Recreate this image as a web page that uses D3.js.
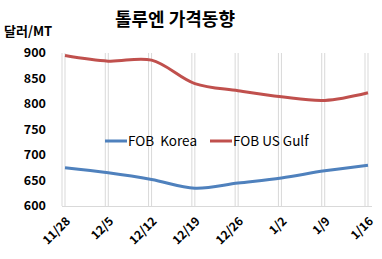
<!DOCTYPE html>
<html>
<head>
<meta charset="utf-8">
<script src="https://cdn.jsdelivr.net/npm/d3@7"></script>
<style>
  body { margin: 0; background: #fff; }
  svg { display: block; font-family: "Noto Sans CJK KR", "Open Sans", sans-serif; }
</style>
</head>
<body>
<div id="chart"></div>
<script>
// categories and series
var dates = ['11/28', '12/5', '12/12', '12/19', '12/26', '1/2', '1/9', '1/16'];
var korea = [675, 665, 652, 635, 645, 655, 669, 680];
var usGulf = [895, 884, 886, 840, 826, 814, 807, 822];
var yTicks = [600, 650, 700, 750, 800, 850, 900];

var width = 382, height = 259;
var svg = d3.select('#chart').append('svg')
    .attr('width', width)
    .attr('height', height);

var x = d3.scalePoint().domain(dates).range([65, 368]);
var y = d3.scaleLinear().domain([600, 900]).range([206, 53]);

// vertical gridlines (doubled, like the original)
var grid = svg.append('g');
grid.selectAll('line.g1')
    .data(dates)
    .enter()
    .append('line')
    .attr('x1', function (d) { return x(d) - 3; })
    .attr('x2', function (d) { return x(d) - 3; })
    .attr('y1', y(900))
    .attr('y2', y(600))
    .style('stroke', '#d9d9d9')
    .style('stroke-width', 1);
grid.selectAll('line.g2')
    .data(dates)
    .enter()
    .append('line')
    .attr('x1', function (d) { return x(d); })
    .attr('x2', function (d) { return x(d); })
    .attr('y1', y(900))
    .attr('y2', y(600))
    .style('stroke', '#d9d9d9')
    .style('stroke-width', 1);

// x axis line
svg.append('line')
    .attr('x1', 62)
    .attr('x2', 372)
    .attr('y1', y(600) + 0.5)
    .attr('y2', y(600) + 0.5)
    .style('stroke', '#d9d9d9')
    .style('stroke-width', 1);

// y tick labels
svg.selectAll('text.ytick')
    .data(yTicks)
    .enter()
    .append('text')
    .attr('x', 46)
    .attr('y', function (d) { return y(d); })
    .attr('dy', '0.35em')
    .attr('text-anchor', 'end')
    .style('font-size', '12.5px')
    .style('font-weight', 'bold')
    .style('fill', '#000')
    .text(function (d) { return d; });

// x tick labels, rotated
svg.selectAll('text.xtick')
    .data(dates)
    .enter()
    .append('text')
    .attr('transform', function (d) { return 'translate(' + (x(d) + 3) + ',' + 219 + ') rotate(-45)'; })
    .attr('text-anchor', 'end')
    .attr('dy', '0.35em')
    .style('font-size', '12px')
    .style('font-weight', 'bold')
    .style('fill', '#000')
    .text(function (d) { return d; });

// lines
var line = d3.line()
    .x(function (d, i) { return x(dates[i]); })
    .y(function (d) { return y(d); })
    .curve(d3.curveCatmullRom.alpha(0.5));

svg.append('path')
    .datum(usGulf)
    .attr('d', line)
    .style('fill', 'none')
    .style('stroke', '#c0504d')
    .style('stroke-width', 3);
svg.append('path')
    .datum(korea)
    .attr('d', line)
    .style('fill', 'none')
    .style('stroke', '#4f81bd')
    .style('stroke-width', 3);

// legend
var legend = [
    { name: 'FOB  Korea', color: '#4f81bd', x: 105 },
    { name: 'FOB US Gulf', color: '#c0504d', x: 210 }
];
var lg = svg.selectAll('g.legend')
    .data(legend)
    .enter()
    .append('g')
    .attr('transform', function (d) { return 'translate(' + d.x + ',141)'; });
lg.append('line')
    .attr('x1', 0)
    .attr('x2', 22)
    .style('stroke', function (d) { return d.color; })
    .style('stroke-width', 3);
lg.append('text')
    .attr('x', 23)
    .attr('dy', '0.35em')
    .style('font-size', '13.5px')
    .style('fill', '#000')
    .style('white-space', 'pre')
    .text(function (d) { return d.name; });

// titles
svg.append('text')
    .attr('x', 175)
    .attr('y', 20)
    .attr('dy', '0.35em')
    .attr('text-anchor', 'middle')
    .style('font-size', '18px')
    .style('font-weight', 'bold')
    .text('톨루엔 가격동향');
svg.append('text')
    .attr('x', 4)
    .attr('y', 31)
    .attr('dy', '0.35em')
    .style('font-size', '13px')
    .style('font-weight', 'bold')
    .text('달러/MT');
</script>
</body>
</html>
